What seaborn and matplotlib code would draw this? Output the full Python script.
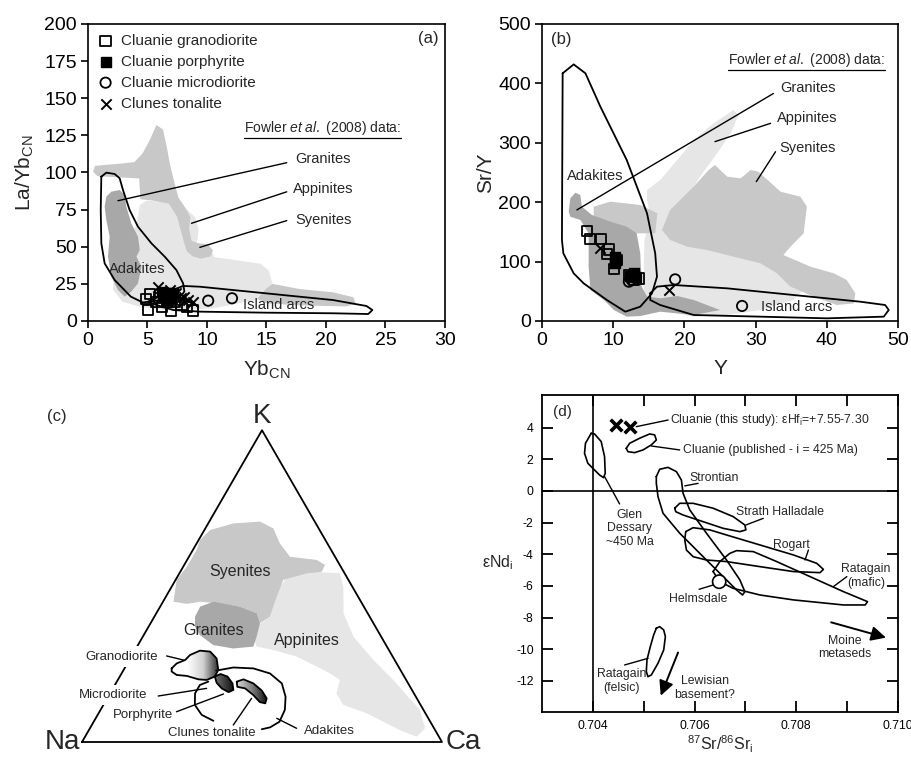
import numpy as np
import pandas as pd
import seaborn as sns
import matplotlib.pyplot as plt
from matplotlib.patches import Polygon, Ellipse
from matplotlib.colors import LinearSegmentedColormap

sns.set_theme(style="ticks")
plt.rcParams['font.family'] = ['Liberation Sans', 'DejaVu Sans']
plt.rcParams['mathtext.fontset'] = 'custom'
plt.rcParams['mathtext.rm'] = 'Liberation Sans'
plt.rcParams['mathtext.it'] = 'Liberation Sans:italic'
plt.rcParams['axes.unicode_minus'] = False

DARK, MID, LIGHT = '#a8a8a8', '#c8c8c8', '#e6e6e6'

# ---------------- panel (a): La/Yb_CN vs Yb_CN ----------------
gd_yb = [4.9, 5.05, 5.2, 5.75, 6.0, 6.2, 7.0, 7.3, 7.85, 8.3, 8.8]
gd_layb = [14.6, 7.4, 18.2, 13.0, 15.3, 9.7, 7.0, 13.0, 10.8, 9.2, 7.0]
por_yb = [6.2, 6.3, 6.6, 6.7, 7.0, 7.15]
por_layb = [19.8, 16.4, 13.0, 18.6, 15.3, 18.6]
md_yb = [7.7, 10.1, 12.1]
md_layb = [14.1, 13.7, 15.3]
ton_yb = [5.9, 6.9, 7.4, 7.85, 8.1, 8.4, 8.8]
ton_layb = [22.7, 20.9, 18.6, 15.3, 16.4, 14.1, 13.0]

syen_a_upper = [(0.42, 100.6), (0.6, 104.5), (2.8, 106), (3.9, 107), (4.6, 113), (5.2, 122),
                (5.75, 132), (6.3, 129), (6.6, 118), (6.9, 105), (7.3, 92), (7.6, 83), (8.2, 76),
                (8.6, 70), (8.5, 62), (8.7, 54), (9.2, 52.5), (10.1, 51.5), (10.5, 47.5),
                (10.3, 43.5), (9.5, 42), (8.8, 43.5), (8.3, 47), (8.0, 55), (7.5, 70), (6.8, 79),
                (5.5, 81), (4.4, 82), (4.3, 96), (2.0, 97), (0.8, 97.5)]
syen_a_lower = [(15.0, 22), (15.5, 25), (17.8, 21.5), (20.6, 19.3), (22.3, 16), (22.5, 11.5),
                (21.7, 9.8), (17.8, 10.5), (15.0, 11.9), (14.2, 15)]
app_a = [(4.35, 78), (4.9, 81), (6.5, 80), (7.6, 80), (8.3, 75), (9.0, 70), (9.3, 62), (9.2, 55),
         (9.0, 50), (10.4, 47), (10.6, 43), (12.0, 41.5), (14.5, 38.5), (15.2, 34), (15.5, 25),
         (14.5, 18), (14.0, 14), (10.5, 8.5), (6.6, 7.2), (4.4, 9.5), (2.9, 13), (2.1, 21),
         (2.2, 32), (3.2, 37), (4.1, 50), (3.9, 61), (4.2, 70)]
gran_a = [(1.54, 83.7), (1.96, 87.1), (2.66, 88.2), (3.08, 84.8), (3.22, 77), (3.64, 65.8),
          (4.2, 56.8), (4.35, 47.8), (4.07, 43.3), (4.49, 36.6), (4.2, 25.4), (3.64, 19.8),
          (3.08, 16.4), (2.52, 20.9), (1.96, 29.9), (1.68, 43.3), (1.82, 56.8), (1.54, 68),
          (1.4, 77)]
adak_a = [(1.12, 97.2), (1.54, 99.9), (2.24, 99.0), (2.66, 96.1), (2.94, 88.2), (3.5, 74.7),
          (4.2, 63.5), (5.33, 52.3), (6.45, 43.3), (7.43, 34.3), (7.99, 25.4), (8.1, 20),
          (7.9, 17.5), (7.0, 15.5), (5.6, 13.5), (4.6, 12.5), (3.6, 16.4), (2.24, 27.6),
          (1.4, 38.8), (1.12, 52.3), (1.07, 74.7), (1.12, 97.2)]
arc_a = [(5.05, 13.0), (7.15, 20.9), (7.99, 23.6), (9.39, 23.1), (15.0, 18.6), (20.6, 14.1),
         (23.4, 10.1), (23.9, 7.4), (23.55, 4.7), (20.6, 5.2), (15.0, 5.6), (9.39, 6.3),
         (7.15, 7.4), (5.75, 10.8), (5.05, 13.0)]

# ---------------- panel (b): Sr/Y vs Y ----------------
gd_y = [6.3, 6.7, 8.3, 9.1, 9.4, 10.1, 10.5, 12.2, 12.9, 13.6]
gd_sry = [152, 137.5, 137.5, 112.8, 120.6, 88.1, 102.7, 77.4, 69, 71.8]
por_y = [10.2, 10.3, 10.4, 12.4, 12.9, 13.2]
por_sry = [107.2, 97, 102.7, 75.8, 80.2, 74.6]
md_y = [12.2, 12.6, 18.7, 28.1]
md_sry = [66.2, 69, 70.1, 25.3]
ton_y = [8.2, 12.8, 17.9]
ton_sry = [122.3, 71.8, 52.2]

app_b = [(14.75, 220.5), (16.6, 237.4), (19.0, 271.0), (21.3, 304.7), (24.1, 332.8), (26.9, 355.2),
         (27.6, 346.8), (26.5, 315.9), (24.6, 282.3), (22.2, 243.0), (20.4, 209.3), (18.5, 181.3),
         (17.6, 153.2), (21.3, 147.6), (26.0, 136.4), (30.7, 125.1), (33.5, 108.3), (35.3, 91.5),
         (37.2, 57.8), (35.3, 35.4), (30.7, 18.5), (26.0, 10.1), (21.3, 7.3), (16.6, 18.5),
         (14.3, 46.6), (14.3, 91.5), (14.4, 136.4), (15.2, 175.6), (14.75, 203.7)]
syen_b = [(16.85, 153.2), (18.0, 186.9), (21.3, 226.2), (23.4, 254.2), (24.3, 262.6), (26.0, 243.0),
          (27.9, 240.2), (29.3, 254.2), (30.4, 251.4), (33.5, 217.7), (36.3, 209.3), (37.2, 192.5),
          (36.75, 147.6), (34.9, 125.1), (33.9, 111.1), (37.7, 91.5), (41.0, 80.2), (42.8, 69.0),
          (44.0, 46.6), (43.8, 29.7), (41.4, 26.9), (38.2, 41.0), (34.9, 57.8), (33.0, 80.2),
          (30.7, 97.1), (26.9, 108.3), (23.2, 119.5), (20.4, 125.1), (18.0, 136.4)]
syen_b_cap = [(7.26, 192.5), (9.6, 200.9), (13.8, 195.3), (16.2, 181.3), (15.9, 147.6),
              (13.8, 147.6), (10.5, 147.6), (7.26, 147.6)]
gran_b = [(3.75, 184.1), (3.98, 206.5), (4.68, 216.0), (5.38, 212.1), (5.6, 192.5), (7.0, 178.5),
          (9.6, 167.2), (11.9, 158.8), (13.3, 147.6), (13.8, 113.9), (14.0, 57.8), (14.75, 41.0),
          (16.6, 38.2), (19.0, 42.1), (21.3, 35.4), (25.0, 18.5), (21.3, 10.1), (16.6, 15.7),
          (13.8, 8.4), (11.9, 7.3), (10.1, 18.5), (8.7, 35.4), (6.8, 52.2), (6.55, 91.5),
          (6.55, 147.6), (5.4, 170.0), (3.98, 175.6)]
adak_b = [(2.9, 417), (4.45, 432), (6.1, 417), (8.2, 360.8), (11.9, 271), (14.75, 181.3),
          (15.9, 113.9), (16.15, 74.6), (15.45, 46.6), (13.8, 24.1), (11.7, 15.7), (9.1, 35.4),
          (5.85, 63.4), (4.45, 80.2), (3.0, 113.9), (2.8, 136.4), (2.9, 417)]
arc_b = [(15.2, 46.6), (16.15, 57.8), (18.5, 60.6), (26.0, 55.0), (35.3, 43.8), (44.7, 32.5),
         (48.2, 26.9), (48.7, 18.5), (48.0, 7.3), (40.0, 4.5), (30.7, 7.3), (21.3, 10.1),
         (16.6, 26.9), (15.2, 35.4), (15.2, 46.6)]

# ---------------- panel (c): Na-K-Ca ternary, points as (Ca %, K %) ----------------
syen_c = [(2.9, 45.0), (0.3, 52.0), (1.0, 56.2), (1.05, 61.6), (0.4, 64.8), (1.6, 68.0),
          (7.0, 70.1), (14.1, 70.7), (18.9, 68.5), (23.1, 63.7), (28.1, 59.4), (36.0, 58.4),
          (39.1, 56.8), (39.3, 54.6), (35.4, 54.1), (29.9, 52.0), (30.8, 46.6), (32.1, 40.2),
          (30.4, 38.1), (27.9, 41.3), (22.2, 43.4), (15.2, 44.5), (10.3, 45.0), (6.9, 44.3)]
gran_c = [(11.3, 40.2), (11.1, 43.4), (14.0, 45.0), (22.2, 43.4), (27.9, 41.3), (30.4, 38.1),
          (31.6, 33.8), (32.3, 30.6), (27.0, 30.0), (20.9, 31.1), (15.6, 34.3), (12.9, 37.0)]
app_c = [(30.0, 37.0), (32.1, 40.2), (30.1, 49.8), (30.7, 54.1), (37.0, 54.6), (44.6, 54.1),
         (47.7, 49.8), (52.0, 41.3), (58.5, 33.8), (67.8, 26.3), (76.5, 19.9), (88.7, 10.3),
         (93.1, 4.4), (92.1, 1.7), (86.4, 3.8), (74.5, 9.2), (66.6, 11.9), (62.9, 15.6),
         (61.7, 19.9), (57.9, 22.0), (53.1, 24.2), (45.9, 27.4), (38.4, 29.5), (33.2, 30.6),
         (30.7, 33.8)]
grd_c = [(13.1, 23.6), (13.7, 25.2), (15.5, 26.3), (16.05, 27.9), (18.1, 29.3), (21.1, 29.0),
         (24.0, 26.8), (26.3, 23.1), (26.4, 21.0), (24.7, 19.9), (22.3, 20.1), (18.5, 21.2),
         (15.55, 21.5), (13.6, 22.6)]
por_c = [(26.4, 21.0), (27.6, 21.8), (29.9, 21.0), (32.4, 18.8), (33.7, 16.7), (32.7, 16.0),
         (30.2, 17.2), (27.9, 19.0)]
ton_c = [(33.3, 19.35), (34.8, 20.1), (38.2, 18.8), (41.7, 16.5), (44.3, 14.0), (44.7, 12.4),
         (43.0, 12.8), (40.0, 15.1), (36.7, 17.2), (34.3, 17.7)]
md_c = [(25.4, 19.35), (23.6, 18.3), (23.6, 15.6), (25.4, 11.9), (28.9, 8.7), (33.1, 6.8)]
adak_c = [(25.8, 22.9), (30.1, 23.9), (35.8, 23.6), (41.2, 22.0), (46.1, 18.8), (49.3, 14.5),
          (51.2, 10.3), (51.6, 6.5), (49.9, 4.7), (47.9, 4.1)]

# ---------------- panel (d): eNd vs 87Sr/86Sr ----------------
this_sr = [0.704447, 0.704736]
this_nd = [4.17, 4.06]
glen = [(0.703967, 3.64), (0.703855, 3.01), (0.703836, 2.38), (0.703901, 1.75), (0.704000, 1.43),
        (0.704131, 1.01), (0.704210, 0.84), (0.704243, 1.12), (0.704230, 2.17), (0.704164, 3.12),
        (0.704033, 3.60)]
cluanie_pub = [(0.704657, 2.69), (0.704723, 3.01), (0.704920, 3.33), (0.705117, 3.60),
               (0.705215, 3.54), (0.705248, 3.22), (0.705150, 2.91), (0.704986, 2.59),
               (0.704821, 2.42), (0.704690, 2.48)]
strontian = [(0.705248, 0.91), (0.705314, 1.37), (0.705478, 1.49), (0.705643, 1.22),
             (0.705741, 0.69), (0.705774, -0.15), (0.705906, -1.20), (0.706234, -2.67),
             (0.706628, -4.36), (0.706891, -5.62), (0.706989, -6.36), (0.706943, -6.57),
             (0.706825, -6.25), (0.706497, -5.20), (0.706102, -3.94), (0.705708, -2.67),
             (0.705380, -1.41), (0.705281, -0.36), (0.705248, 0.48)]
strath = [(0.705610, -1.09), (0.705708, -0.78), (0.705971, -0.78), (0.706365, -1.09),
          (0.706759, -1.62), (0.706989, -2.15), (0.707009, -2.46), (0.706891, -2.57),
          (0.706562, -2.36), (0.706168, -1.94), (0.705774, -1.52), (0.705630, -1.31)]
rogart = [(0.705826, -2.57), (0.705971, -2.32), (0.706300, -2.46), (0.706628, -2.78),
          (0.707285, -3.41), (0.707942, -4.04), (0.708402, -4.57), (0.708533, -4.95),
          (0.708468, -5.16), (0.707942, -5.09), (0.707285, -4.78), (0.706628, -4.46),
          (0.706234, -4.36), (0.705971, -4.15), (0.705840, -3.73), (0.705807, -3.09)]
rat_mafic = [(0.706365, -5.09), (0.706497, -4.46), (0.706694, -3.94), (0.706825, -3.77),
             (0.707154, -3.83), (0.707614, -4.46), (0.708271, -5.41), (0.708928, -6.36),
             (0.709401, -6.99), (0.709355, -7.20), (0.708928, -7.20), (0.707942, -6.88),
             (0.707285, -6.57), (0.706759, -6.15), (0.706497, -5.73)]
rat_felsic = [(0.705248, -8.67), (0.705314, -8.57), (0.705393, -8.78), (0.705426, -9.20),
              (0.705393, -10.04), (0.705281, -10.88), (0.705150, -11.62), (0.705084, -11.73),
              (0.705051, -11.41), (0.705064, -10.67), (0.705130, -9.83), (0.705196, -9.09)]
helmsdale = (0.706484, -5.73)


def fill(ax, pts, color, z=1):
    xs, ys = zip(*pts)
    ax.fill(xs, ys, color=color, lw=0, zorder=z)


def outline(ax, pts, closed=True, z=3, lw=1.3):
    pts = list(pts) + ([pts[0]] if closed else [])
    xs, ys = zip(*pts)
    ax.plot(xs, ys, color='black', lw=lw, zorder=z, solid_joinstyle='round')


def leader(ax, p0, p1, lw=1.0):
    ax.plot([p0[0], p1[0]], [p0[1], p1[1]], color='black', lw=lw, zorder=4)


def samples(ax, xs, ys, kind, label=None, s=55):
    kw = dict(x=xs, y=ys, ax=ax, s=s, zorder=6, legend=False, label=label)
    if kind == 'gd':
        sns.scatterplot(marker='s', facecolor='none', edgecolor='black', linewidth=1.3, **kw)
    elif kind == 'por':
        sns.scatterplot(marker='s', color='black', edgecolor='black', linewidth=1.0, **kw)
    elif kind == 'md':
        sns.scatterplot(marker='o', facecolor='none', edgecolor='black', linewidth=1.3, **kw)
    else:
        sns.scatterplot(marker='x', color='black', linewidth=1.4, **kw)


def style_xy(ax):
    for sp in ax.spines.values():
        sp.set_visible(True)
        sp.set_linewidth(1.2)
        sp.set_color('black')
    ax.tick_params(direction='out', length=5, width=1.2, labelsize=14, pad=3, colors='black')


fig = plt.figure(figsize=(9.12, 7.6), dpi=100)

# ---- (a)
ax = fig.add_axes([88 / 912, 1 - 321 / 760, 357 / 912, 297 / 760])
fill(ax, app_a, LIGHT)
fill(ax, syen_a_upper, MID)
fill(ax, syen_a_lower, MID)
fill(ax, gran_a, DARK)
outline(ax, adak_a, closed=False)
outline(ax, arc_a, closed=False)
samples(ax, gd_yb, gd_layb, 'gd', 'Cluanie granodiorite')
samples(ax, por_yb, por_layb, 'por', 'Cluanie porphyrite')
samples(ax, md_yb, md_layb, 'md', 'Cluanie microdiorite')
samples(ax, ton_yb, ton_layb, 'ton', 'Clunes tonalite')
ax.legend(loc='upper left', frameon=False, fontsize=11, handlelength=1.0, handletextpad=0.5,
          labelspacing=0.45, borderaxespad=0.15, borderpad=0.5)
leader(ax, (16.7, 106.6), (2.52, 81))
leader(ax, (16.7, 87), (8.7, 65.8))
leader(ax, (16.7, 67.6), (9.4, 49.6))
ax.text(17.4, 108.9, 'Granites', fontsize=10.5, va='center')
ax.text(17.2, 88.7, 'Appinites', fontsize=10.5, va='center')
ax.text(17.4, 68, 'Syenites', fontsize=10.5, va='center')
ax.text(4.1, 34.8, 'Adakites', fontsize=10.5, ha='center', va='center')
ax.text(13.0, 10.8, 'Island arcs', fontsize=10.5, va='center')
ax.text(28.6, 190, '(a)', fontsize=12, ha='center', va='center')
fa = ax.text(19.7, 130, r'Fowler $\it{et\ al.}$ (2008) data:', fontsize=10, ha='center', va='center')
ax.set_xlim(0, 30)
ax.set_ylim(0, 200)
ax.set_xticks(range(0, 31, 5))
ax.set_yticks(range(0, 201, 25))
ax.set_xlabel(r'Yb$_{\rm CN}$', fontsize=15, labelpad=7)
ax.set_ylabel(r'La/Yb$_{\rm CN}$', fontsize=15, labelpad=6)
style_xy(ax)
ax_a = ax

# ---- (b)
ax = fig.add_axes([542 / 912, 1 - 321 / 760, 356 / 912, 297 / 760])
fill(ax, app_b, LIGHT)
fill(ax, syen_b, MID)
fill(ax, syen_b_cap, MID)
fill(ax, gran_b, DARK)
outline(ax, adak_b, closed=False)
outline(ax, arc_b, closed=False)
samples(ax, gd_y, gd_sry, 'gd')
samples(ax, por_y, por_sry, 'por')
samples(ax, md_y, md_sry, 'md')
samples(ax, ton_y, ton_sry, 'ton')
leader(ax, (32.5, 383), (4.9, 187))
leader(ax, (32.1, 332.8), (24.3, 302))
leader(ax, (32.8, 285), (30.1, 234.6))
ax.text(33.4, 391.7, 'Granites', fontsize=10.5, va='center')
ax.text(33.0, 341, 'Appinites', fontsize=10.5, va='center')
ax.text(33.4, 290.7, 'Syenites', fontsize=10.5, va='center')
ax.text(3.5, 244.7, 'Adakites', fontsize=10.5, va='center')
ax.text(30.7, 24.1, 'Island arcs', fontsize=10.5, va='center')
ax.text(2.67, 474.7, '(b)', fontsize=12, ha='center', va='center')
fb = ax.text(37.2, 439.4, r'Fowler $\it{et\ al.}$ (2008) data:', fontsize=10, ha='center', va='center')
ax.set_xlim(0, 50)
ax.set_ylim(0, 500)
ax.set_xticks(range(0, 51, 10))
ax.set_yticks(range(0, 501, 100))
ax.set_xlabel('Y', fontsize=15, labelpad=7)
ax.set_ylabel('Sr/Y', fontsize=15, labelpad=2)
style_xy(ax)
ax_b = ax

# ---- (c) ternary
ax = fig.add_axes([0, 0, 460 / 912, 380 / 760])
ax.axis('off')
R3 = np.sqrt(3) / 2


def tern(pts):
    return [(ca / 100 + k / 200, k / 100 * R3) for ca, k in pts]


fill(ax, tern(app_c), LIGHT)
fill(ax, tern(syen_c), MID)
fill(ax, tern(gran_c), DARK)


def gradient_fill(ax, pts, colors):
    arr = np.array(pts)
    poly = Polygon(arr, closed=True, facecolor='none', edgecolor='none')
    ax.add_patch(poly)
    cmap = LinearSegmentedColormap.from_list('g', colors)
    grad = np.linspace(0, 1, 256).reshape(1, -1)
    im = ax.imshow(grad, cmap=cmap, aspect='auto', origin='lower', zorder=2,
                   extent=[arr[:, 0].min(), arr[:, 0].max(), arr[:, 1].min(), arr[:, 1].max()])
    im.set_clip_path(poly)
    outline(ax, pts, closed=True, lw=1.3)


gradient_fill(ax, tern(grd_c), ['white', 'white', '#d0d0d0', '#2a2a2a'])
gradient_fill(ax, tern(por_c), ['#707070', '#101010'])
gradient_fill(ax, tern(ton_c), ['#d8d8d8', '#808080', '#101010'])
outline(ax, tern(md_c), closed=False)
outline(ax, tern(adak_c), closed=False)
outline(ax, tern([(0, 0), (0, 100), (100, 0)]), closed=True, z=1, lw=1.3)

ax.text(*tern([(16.6, 54.6)])[0], 'Syenites', fontsize=11.5, ha='center', va='center')
ax.text(*tern([(18.5, 35.9)])[0], 'Granites', fontsize=11.5, ha='center', va='center')
ax.text(*tern([(46.1, 32.7)])[0], 'Appinites', fontsize=11.5, ha='center', va='center')
box = dict(facecolor='white', edgecolor='none', pad=3)
ax.text(*tern([(-2.7, 27.4)])[0], 'Granodiorite', fontsize=9.5, ha='center', va='center', bbox=box, zorder=5)
ax.text(*tern([(1.15, 15.1)])[0], 'Microdiorite', fontsize=9.5, ha='center', va='center', bbox=box, zorder=5)
ax.text(*tern([(12.7, 8.7)])[0], 'Porphyrite', fontsize=9.5, ha='center', va='center', zorder=5)
ax.text(*tern([(34.5, 3.0)])[0], 'Clunes tonalite', fontsize=9.5, ha='center', va='center', zorder=5)
ax.text(*tern([(67.1, 3.5)])[0], 'Adakites', fontsize=9.5, ha='center', va='center', zorder=5)
for p0, p1 in [((9.7, 27.6), (15.0, 26.3)), ((13.8, 14.75), (26.0, 17.2)),
               ((21.4, 9.7), (31.6, 15.4)), ((39.3, 5.45), (40.1, 14.0)),
               ((50.3, 7.6), (57.4, 4.4))]:
    a, b = tern([p0, p1])
    leader(ax, a, b)
ax.text(*tern([(0, 100)])[0] + np.array([0, 0.04]), 'K', fontsize=20, ha='center', va='center')
ax.text(-0.055, 0.0, 'Na', fontsize=20, ha='center', va='center')
ax.text(1.06, 0.0, 'Ca', fontsize=20, ha='center', va='center', clip_on=False)
ax.text(-0.07, 0.905, '(c)', fontsize=12, ha='center', va='center')
ax.set_xlim(-82 / 360, 378 / 360)
ax.set_ylim(-18 / 360, 362 / 360)

# ---- (d)
ax = fig.add_axes([542 / 912, 1 - 712 / 760, 356 / 912, 317 / 760])
ax.axvline(0.704, color='black', lw=1.2)
ax.axhline(0, color='black', lw=1.2)
for shape in [glen, cluanie_pub, strontian, strath, rogart, rat_mafic, rat_felsic]:
    outline(ax, shape, closed=True, lw=1.2)
ax.add_patch(Ellipse(helmsdale, 0.00026, 0.84, facecolor='white', edgecolor='black', lw=1.2, zorder=4))
sns.scatterplot(x=this_sr, y=this_nd, ax=ax, marker='x', color='black', s=70, linewidth=2.6,
                legend=False, zorder=6)
fs = 8.8
leader(ax, (0.704854, 4.06), (0.705479, 4.48))
ax.text(0.705511, 4.48, r'Cluanie (this study): εHf$_{\rm i}$=+7.55-7.30', fontsize=fs, va='center')
leader(ax, (0.705150, 2.84), (0.705708, 2.59))
ax.text(0.705774, 2.59, 'Cluanie (published - i = 425 Ma)', fontsize=fs, va='center')
leader(ax, (0.705807, 0.32), (0.706070, 0.48))
ax.text(0.705892, 0.84, 'Strontian', fontsize=fs, va='center')
leader(ax, (0.704230, 0.91), (0.704526, -0.82))
ax.text(0.704723, -2.36, 'Glen\nDessary\n~450 Ma', fontsize=fs, ha='center', va='center', linespacing=1.15)
leader(ax, (0.707009, -2.15), (0.707351, -1.73))
ax.text(0.707681, -1.31, 'Strath Halladale', fontsize=fs, ha='center', va='center')
leader(ax, (0.708172, -4.36), (0.708238, -3.73))
ax.text(0.707910, -3.41, 'Rogart', fontsize=fs, ha='center', va='center')
leader(ax, (0.708731, -6.04), (0.708994, -5.41))
ax.text(0.709374, -5.37, 'Ratagain\n(mafic)', fontsize=fs, ha='center', va='center', linespacing=1.15)
leader(ax, (0.706365, -5.94), (0.706089, -6.21))
ax.text(0.706070, -6.84, 'Helmsdale', fontsize=fs, ha='center', va='center')
leader(ax, (0.704624, -10.99), (0.705084, -10.57))
ax.text(0.704559, -12.0, 'Ratagain\n(felsic)', fontsize=fs, ha='center', va='center', linespacing=1.15)
arrow = dict(arrowstyle='-|>', color='black', lw=1.4, mutation_scale=22)
ax.annotate('', xy=(0.705314, -13.09), xytext=(0.705696, -10.04), arrowprops=arrow)
ax.text(0.706201, -12.45, 'Lewisian\nbasement?', fontsize=fs, ha='center', va='center', linespacing=1.15)
ax.annotate('', xy=(0.709816, -9.31), xytext=(0.708633, -8.25), arrowprops=arrow)
ax.text(0.708961, -9.9, 'Moine\nmetaseds', fontsize=fs, ha='center', va='center', linespacing=1.15)
ax.text(0.703408, 5.0, '(d)', fontsize=11, ha='center', va='center')
ax.set_xlim(0.703, 0.710)
ax.set_ylim(-13.96, 6.06)
ax.set_xticks([0.704, 0.705, 0.706, 0.707, 0.708, 0.709, 0.710])
ax.set_xticklabels(['0.704', '', '0.706', '', '0.708', '', '0.710'])
ax.set_yticks(range(-12, 5, 2))
ax.set_yticklabels([str(v) for v in range(-12, 5, 2)])
for sp in ax.spines.values():
    sp.set_visible(True)
    sp.set_linewidth(1.3)
    sp.set_color('black')
ax.tick_params(direction='in', top=True, right=True, length=8, width=1.3, labelsize=8.8, pad=6,
               colors='black')
ax.set_xlabel(r'$^{87}$Sr/$^{86}$Sr$_{\rm i}$', fontsize=11.5)
ax.xaxis.set_label_coords(0.5, -0.068)
ax.set_ylabel(r'εNd$_{\rm i}$', fontsize=11.5, rotation=0, va='center', ha='center')
ax.yaxis.set_label_coords(-0.125, 0.47)

# underline the "Fowler et al. (2008) data:" headers
fig.canvas.draw()
for axx, t in [(ax_a, fa), (ax_b, fb)]:
    bb = t.get_window_extent().transformed(axx.transAxes.inverted())
    axx.plot([bb.x0, bb.x1], [bb.y0 - 0.005, bb.y0 - 0.005], transform=axx.transAxes,
             color='black', lw=0.9)

fig.savefig('out.png', dpi=100)
